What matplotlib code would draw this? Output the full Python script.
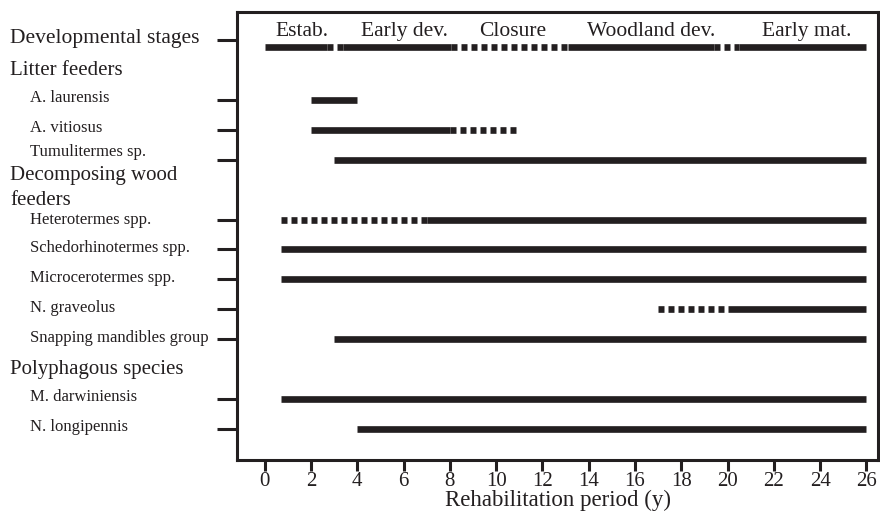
import matplotlib
matplotlib.use("Agg")
import matplotlib.pyplot as plt
from matplotlib.transforms import blended_transform_factory

plt.rcParams['font.family'] = ['Liberation Serif', 'DejaVu Serif']

INK = '#231f20'

# developmental stages row
stage_names = ['Estab.', 'Early dev.', 'Closure', 'Woodland dev.', 'Early mat.']
stage_label_x = [1.6, 6.05, 10.7, 16.7, 23.4]
stage_solid = [(0, 2.67), (3.4, 8.06), (13.1, 19.4), (20.5, 26)]
stage_dotted = [(2.67, 3.4), (8.06, 13.1), (19.4, 20.5)]

# species rows
species = ['A. laurensis', 'A. vitiosus', 'Tumulitermes sp.', 'Heterotermes spp.',
           'Schedorhinotermes spp.', 'Microcerotermes spp.', 'N. graveolus',
           'Snapping mandibles group', 'M. darwiniensis', 'N. longipennis']
species_row = [2, 3, 4, 6, 7, 8, 9, 10, 12, 13]
solid_start = [2, 2, 3, 7, 0.7, 0.7, 20, 3, 0.7, 4]
solid_end = [4, 8, 26, 26, 26, 26, 26, 26, 26, 26]
dotted_start = [None, 8, None, 0.7, None, None, 17, None, None, None]
dotted_end = [None, 11, None, 7, None, None, 20, None, None, None]

groups = ['Litter feeders', 'Decomposing wood\nfeeders', 'Polyphagous species']
group_row = [1, 4.95, 11]

fig = plt.figure(figsize=(8.8, 5.19), dpi=100)
ax = fig.add_axes([237 / 880, 1 - 460 / 519, 641 / 880, 448 / 519])

lw = 4.8
dash = (0.9, 0.6)


def bar(x0, x1, y, dotted=False):
    if dotted:
        ax.plot([x0, x1], [y, y], color=INK, lw=lw, dashes=dash,
                dash_capstyle='butt', solid_capstyle='butt')
    else:
        ax.plot([x0, x1], [y, y], color=INK, lw=lw, solid_capstyle='butt')


stage_y = 0.23
for a, b in stage_solid:
    bar(a, b, stage_y)
for a, b in stage_dotted:
    bar(a, b, stage_y, dotted=True)
for name, x in zip(stage_names, stage_label_x):
    ax.text(x, -0.3, name, ha='center', va='center', fontsize=15.5, color=INK)

for i, y in enumerate(species_row):
    bar(solid_start[i], solid_end[i], y)
    if dotted_start[i] is not None:
        bar(dotted_start[i], dotted_end[i], y, dotted=True)

ax.set_xlim(-1.2, 26.5)
ax.set_ylim(14.04, -0.94)
ax.set_xticks(range(0, 27, 2))
ax.set_yticks([0] + species_row)
ax.set_yticklabels([])
ax.tick_params(axis='y', length=14.5, width=2.2, color=INK)
ax.tick_params(axis='x', length=8, width=2.2, color=INK, labelsize=15,
               labelcolor=INK, pad=1)
for s in ax.spines.values():
    s.set_linewidth(2.2)
    s.set_color(INK)
ax.set_xlabel('Rehabilitation period (y)', fontsize=16.5, color=INK, labelpad=-1)

tr = blended_transform_factory(fig.transFigure, ax.transData)
ax.text(10 / 880, -0.05, 'Developmental stages', transform=tr, ha='left',
        va='center', fontsize=15.5, color=INK, clip_on=False)
for g, y in zip(groups, group_row):
    ax.text(10 / 880, y, g, transform=tr, ha='left', va='center',
            fontsize=15, color=INK, clip_on=False, linespacing=1.4)
# labels just above/below the two-line header are nudged to keep clear of it
label_nudge = {'Tumulitermes sp.': -0.2, 'Heterotermes spp.': 0.05}
for name, y in zip(species, species_row):
    ax.text(30 / 880, y - 0.05 + label_nudge.get(name, 0), name, transform=tr,
            ha='left', va='center', fontsize=12, color=INK, clip_on=False)

fig.savefig('out.png', dpi=100)
